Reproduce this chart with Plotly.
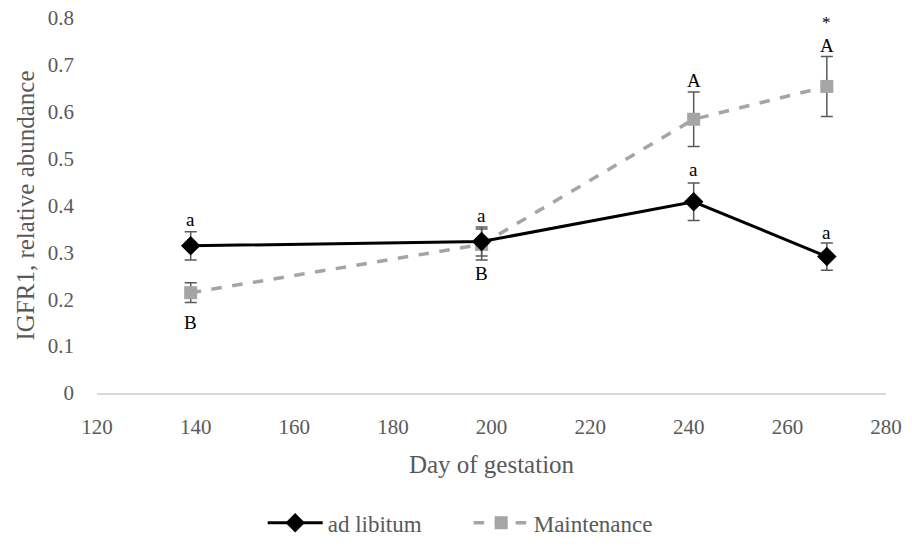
import plotly.graph_objects as go

days = [139, 198, 241, 268]
adlib = [0.314, 0.323, 0.408, 0.291]
adlib_err = [0.030, 0.031, 0.040, 0.029]
maint = [0.214, 0.317, 0.584, 0.654]
maint_err = [0.021, 0.033, 0.058, 0.064]

ann_x = [139, 198, 241, 268, 139, 198, 241, 268, 268]
ann_y = [0.371, 0.379, 0.476, 0.343, 0.151, 0.254, 0.666, 0.742, 0.790]
ann_text = ["a", "a", "a", "a", "B", "B", "A", "A", "*"]

FONT = "Liberation Serif"
GREY = "#595959"
fig = go.Figure()
fig.add_trace(go.Scatter(
    x=days, y=maint, name="Maintenance", mode="lines+markers",
    line=dict(color="#A5A5A5", width=3.5, dash="dash"),
    marker=dict(symbol="square", size=13, color="#A5A5A5"),
    error_y=dict(type="data", array=maint_err, color=GREY, thickness=1.5, width=6),
))
fig.add_trace(go.Scatter(
    x=days, y=adlib, name="ad libitum", mode="lines+markers",
    line=dict(color="#000000", width=3),
    marker=dict(symbol="diamond", size=15, color="#000000"),
    error_y=dict(type="data", array=adlib_err, color=GREY, thickness=1.5, width=6),
))
for x, y, t in zip(ann_x, ann_y, ann_text):
    fig.add_annotation(x=x, y=y, text=t, showarrow=False,
                       font=dict(family=FONT, size=19 if t != "*" else 17, color="#000000"),
                       yanchor="middle", xanchor="center")

fig.update_layout(
    width=912, height=546,
    margin=dict(l=97, r=26, t=18, b=153, autoexpand=False),
    paper_bgcolor="white", plot_bgcolor="white",
    font=dict(family=FONT, size=20, color=GREY),
    showlegend=True,
    legend=dict(orientation="h", x=0.21, xanchor="left", y=-0.346, yanchor="middle",
                traceorder="reversed", font=dict(family=FONT, size=23, color=GREY),
                itemwidth=55, entrywidth=136),
    xaxis=dict(range=[120, 280], dtick=20, tick0=120, showgrid=False, zeroline=False,
               showline=True, linecolor="#D9D9D9", linewidth=1.5, ticks="",
               tickfont=dict(family=FONT, size=21, color=GREY),
               ticklabelstandoff=14, automargin=False,
               title=dict(text="Day of gestation", font=dict(family=FONT, size=25, color=GREY), standoff=18)),
    yaxis=dict(range=[0, 0.8], dtick=0.1, showgrid=False, zeroline=False, showline=False,
               ticks="", ticklabelstandoff=22, automargin=False,
               tickfont=dict(family=FONT, size=21, color=GREY),
               title=dict(text="IGFR1, relative abundance", font=dict(family=FONT, size=25, color=GREY), standoff=6)),
)
fig.write_html("out.html")
